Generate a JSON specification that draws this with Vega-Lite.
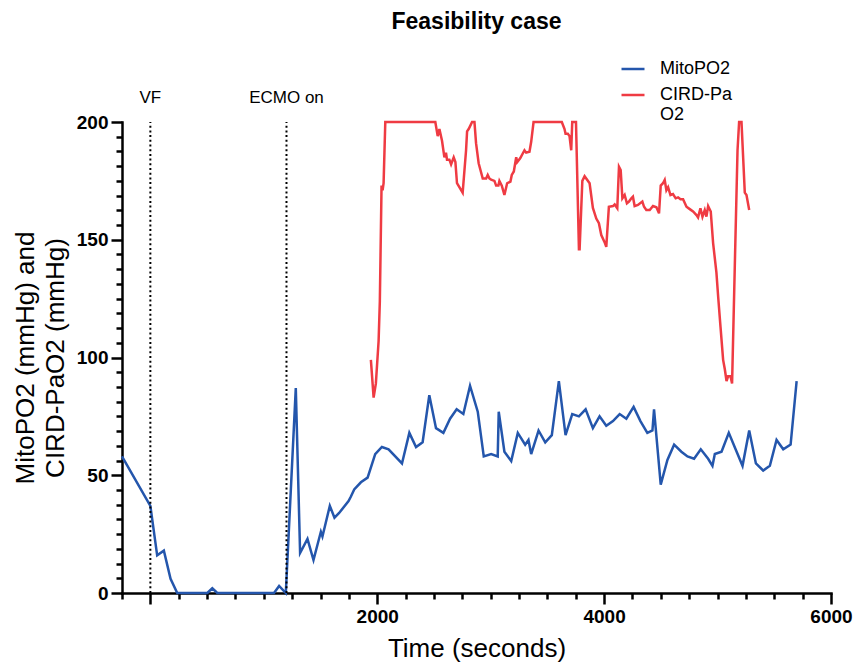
{
  "$schema": "https://vega.github.io/schema/vega-lite/v6.json",
  "width": 709,
  "height": 471,
  "autosize": "none",
  "padding": {"left": 122, "top": 122, "right": 24, "bottom": 73},
  "background": "white",
  "title": {"text": "Feasibility case", "font": "Liberation Sans", "fontSize": 23, "fontWeight": "bold", "color": "black", "anchor": "middle", "frame": "group", "offset": 22},
  "config": {
    "view": {"stroke": null},
    "axis": {"grid": false, "domainColor": "black", "tickColor": "black", "labelColor": "black", "titleColor": "black", "labelFont": "Liberation Sans", "titleFont": "Liberation Sans", "domainWidth": 2.5, "tickWidth": 2.5, "domainCap": "square"}
  },
  "datasets": {
    "series": [
      {"t": -250, "v": 58, "s": "MitoPO2"},
      {"t": 0, "v": 37, "s": "MitoPO2"},
      {"t": 60, "v": 16, "s": "MitoPO2"},
      {"t": 119, "v": 18, "s": "MitoPO2"},
      {"t": 178, "v": 6, "s": "MitoPO2"},
      {"t": 237, "v": 0, "s": "MitoPO2"},
      {"t": 502, "v": 0, "s": "MitoPO2"},
      {"t": 546, "v": 2, "s": "MitoPO2"},
      {"t": 590, "v": 0, "s": "MitoPO2"},
      {"t": 1090, "v": 0, "s": "MitoPO2"},
      {"t": 1135, "v": 3, "s": "MitoPO2"},
      {"t": 1194, "v": 0, "s": "MitoPO2"},
      {"t": 1282, "v": 87, "s": "MitoPO2"},
      {"t": 1320, "v": 17, "s": "MitoPO2"},
      {"t": 1385, "v": 23, "s": "MitoPO2"},
      {"t": 1438, "v": 14, "s": "MitoPO2"},
      {"t": 1503, "v": 26, "s": "MitoPO2"},
      {"t": 1517, "v": 24, "s": "MitoPO2"},
      {"t": 1582, "v": 37, "s": "MitoPO2"},
      {"t": 1623, "v": 32, "s": "MitoPO2"},
      {"t": 1664, "v": 34, "s": "MitoPO2"},
      {"t": 1747, "v": 39, "s": "MitoPO2"},
      {"t": 1768, "v": 41, "s": "MitoPO2"},
      {"t": 1797, "v": 44, "s": "MitoPO2"},
      {"t": 1856, "v": 47, "s": "MitoPO2"},
      {"t": 1915, "v": 49, "s": "MitoPO2"},
      {"t": 1982, "v": 59, "s": "MitoPO2"},
      {"t": 2041, "v": 62, "s": "MitoPO2"},
      {"t": 2100, "v": 61, "s": "MitoPO2"},
      {"t": 2218, "v": 55, "s": "MitoPO2"},
      {"t": 2283, "v": 68, "s": "MitoPO2"},
      {"t": 2342, "v": 62, "s": "MitoPO2"},
      {"t": 2400, "v": 64, "s": "MitoPO2"},
      {"t": 2459, "v": 84, "s": "MitoPO2"},
      {"t": 2518, "v": 70, "s": "MitoPO2"},
      {"t": 2583, "v": 68, "s": "MitoPO2"},
      {"t": 2642, "v": 74, "s": "MitoPO2"},
      {"t": 2700, "v": 78, "s": "MitoPO2"},
      {"t": 2759, "v": 76, "s": "MitoPO2"},
      {"t": 2818, "v": 88, "s": "MitoPO2"},
      {"t": 2886, "v": 77, "s": "MitoPO2"},
      {"t": 2939, "v": 58, "s": "MitoPO2"},
      {"t": 3004, "v": 59, "s": "MitoPO2"},
      {"t": 3062, "v": 58, "s": "MitoPO2"},
      {"t": 3071, "v": 77, "s": "MitoPO2"},
      {"t": 3121, "v": 60, "s": "MitoPO2"},
      {"t": 3181, "v": 56, "s": "MitoPO2"},
      {"t": 3239, "v": 68, "s": "MitoPO2"},
      {"t": 3304, "v": 63, "s": "MitoPO2"},
      {"t": 3333, "v": 65, "s": "MitoPO2"},
      {"t": 3357, "v": 59, "s": "MitoPO2"},
      {"t": 3422, "v": 69, "s": "MitoPO2"},
      {"t": 3481, "v": 64, "s": "MitoPO2"},
      {"t": 3539, "v": 67, "s": "MitoPO2"},
      {"t": 3601, "v": 90, "s": "MitoPO2"},
      {"t": 3660, "v": 67, "s": "MitoPO2"},
      {"t": 3719, "v": 76, "s": "MitoPO2"},
      {"t": 3778, "v": 75, "s": "MitoPO2"},
      {"t": 3837, "v": 78, "s": "MitoPO2"},
      {"t": 3901, "v": 70, "s": "MitoPO2"},
      {"t": 3960, "v": 75, "s": "MitoPO2"},
      {"t": 4019, "v": 71, "s": "MitoPO2"},
      {"t": 4078, "v": 73, "s": "MitoPO2"},
      {"t": 4137, "v": 76, "s": "MitoPO2"},
      {"t": 4196, "v": 74, "s": "MitoPO2"},
      {"t": 4260, "v": 79, "s": "MitoPO2"},
      {"t": 4320, "v": 73, "s": "MitoPO2"},
      {"t": 4381, "v": 68, "s": "MitoPO2"},
      {"t": 4426, "v": 69, "s": "MitoPO2"},
      {"t": 4440, "v": 78, "s": "MitoPO2"},
      {"t": 4499, "v": 46, "s": "MitoPO2"},
      {"t": 4558, "v": 56.5, "s": "MitoPO2"},
      {"t": 4617, "v": 63, "s": "MitoPO2"},
      {"t": 4681, "v": 60, "s": "MitoPO2"},
      {"t": 4735, "v": 58, "s": "MitoPO2"},
      {"t": 4793, "v": 57, "s": "MitoPO2"},
      {"t": 4852, "v": 61, "s": "MitoPO2"},
      {"t": 4917, "v": 57, "s": "MitoPO2"},
      {"t": 4955, "v": 54, "s": "MitoPO2"},
      {"t": 4976, "v": 59, "s": "MitoPO2"},
      {"t": 5035, "v": 60, "s": "MitoPO2"},
      {"t": 5099, "v": 68, "s": "MitoPO2"},
      {"t": 5159, "v": 61, "s": "MitoPO2"},
      {"t": 5220, "v": 54, "s": "MitoPO2"},
      {"t": 5279, "v": 69, "s": "MitoPO2"},
      {"t": 5338, "v": 55, "s": "MitoPO2"},
      {"t": 5402, "v": 52, "s": "MitoPO2"},
      {"t": 5461, "v": 54, "s": "MitoPO2"},
      {"t": 5520, "v": 65, "s": "MitoPO2"},
      {"t": 5579, "v": 61, "s": "MitoPO2"},
      {"t": 5644, "v": 63, "s": "MitoPO2"},
      {"t": 5697, "v": 90, "s": "MitoPO2"},
      {"t": 1944, "v": 99, "s": "CIRD-PaO2"},
      {"t": 1968, "v": 83, "s": "CIRD-PaO2"},
      {"t": 1988, "v": 89, "s": "CIRD-PaO2"},
      {"t": 2012, "v": 107, "s": "CIRD-PaO2"},
      {"t": 2023, "v": 124, "s": "CIRD-PaO2"},
      {"t": 2038, "v": 173, "s": "CIRD-PaO2"},
      {"t": 2047, "v": 171, "s": "CIRD-PaO2"},
      {"t": 2056, "v": 174, "s": "CIRD-PaO2"},
      {"t": 2071, "v": 200, "s": "CIRD-PaO2"},
      {"t": 2512, "v": 200, "s": "CIRD-PaO2"},
      {"t": 2533, "v": 194, "s": "CIRD-PaO2"},
      {"t": 2548, "v": 197, "s": "CIRD-PaO2"},
      {"t": 2571, "v": 192, "s": "CIRD-PaO2"},
      {"t": 2592, "v": 185, "s": "CIRD-PaO2"},
      {"t": 2606, "v": 187, "s": "CIRD-PaO2"},
      {"t": 2615, "v": 184, "s": "CIRD-PaO2"},
      {"t": 2636, "v": 184, "s": "CIRD-PaO2"},
      {"t": 2651, "v": 182, "s": "CIRD-PaO2"},
      {"t": 2674, "v": 185, "s": "CIRD-PaO2"},
      {"t": 2689, "v": 183, "s": "CIRD-PaO2"},
      {"t": 2703, "v": 174, "s": "CIRD-PaO2"},
      {"t": 2753, "v": 170, "s": "CIRD-PaO2"},
      {"t": 2783, "v": 188, "s": "CIRD-PaO2"},
      {"t": 2792, "v": 196, "s": "CIRD-PaO2"},
      {"t": 2806, "v": 197, "s": "CIRD-PaO2"},
      {"t": 2836, "v": 200, "s": "CIRD-PaO2"},
      {"t": 2857, "v": 200, "s": "CIRD-PaO2"},
      {"t": 2871, "v": 191, "s": "CIRD-PaO2"},
      {"t": 2894, "v": 182.5, "s": "CIRD-PaO2"},
      {"t": 2930, "v": 176, "s": "CIRD-PaO2"},
      {"t": 2960, "v": 176, "s": "CIRD-PaO2"},
      {"t": 2974, "v": 177.5, "s": "CIRD-PaO2"},
      {"t": 2989, "v": 176, "s": "CIRD-PaO2"},
      {"t": 3004, "v": 175.5, "s": "CIRD-PaO2"},
      {"t": 3033, "v": 175, "s": "CIRD-PaO2"},
      {"t": 3048, "v": 173, "s": "CIRD-PaO2"},
      {"t": 3068, "v": 173, "s": "CIRD-PaO2"},
      {"t": 3077, "v": 175, "s": "CIRD-PaO2"},
      {"t": 3098, "v": 173, "s": "CIRD-PaO2"},
      {"t": 3121, "v": 169, "s": "CIRD-PaO2"},
      {"t": 3145, "v": 174, "s": "CIRD-PaO2"},
      {"t": 3174, "v": 174.7, "s": "CIRD-PaO2"},
      {"t": 3186, "v": 177.5, "s": "CIRD-PaO2"},
      {"t": 3204, "v": 179, "s": "CIRD-PaO2"},
      {"t": 3225, "v": 185, "s": "CIRD-PaO2"},
      {"t": 3234, "v": 183, "s": "CIRD-PaO2"},
      {"t": 3260, "v": 184.6, "s": "CIRD-PaO2"},
      {"t": 3298, "v": 188, "s": "CIRD-PaO2"},
      {"t": 3313, "v": 187, "s": "CIRD-PaO2"},
      {"t": 3342, "v": 187.4, "s": "CIRD-PaO2"},
      {"t": 3357, "v": 191.6, "s": "CIRD-PaO2"},
      {"t": 3378, "v": 200, "s": "CIRD-PaO2"},
      {"t": 3627, "v": 200, "s": "CIRD-PaO2"},
      {"t": 3651, "v": 197, "s": "CIRD-PaO2"},
      {"t": 3660, "v": 195, "s": "CIRD-PaO2"},
      {"t": 3680, "v": 195, "s": "CIRD-PaO2"},
      {"t": 3695, "v": 194, "s": "CIRD-PaO2"},
      {"t": 3710, "v": 188, "s": "CIRD-PaO2"},
      {"t": 3719, "v": 200, "s": "CIRD-PaO2"},
      {"t": 3752, "v": 200, "s": "CIRD-PaO2"},
      {"t": 3778, "v": 146, "s": "CIRD-PaO2"},
      {"t": 3784, "v": 146, "s": "CIRD-PaO2"},
      {"t": 3808, "v": 175, "s": "CIRD-PaO2"},
      {"t": 3828, "v": 177, "s": "CIRD-PaO2"},
      {"t": 3872, "v": 174, "s": "CIRD-PaO2"},
      {"t": 3901, "v": 163.5, "s": "CIRD-PaO2"},
      {"t": 3931, "v": 159, "s": "CIRD-PaO2"},
      {"t": 3954, "v": 157, "s": "CIRD-PaO2"},
      {"t": 3975, "v": 152, "s": "CIRD-PaO2"},
      {"t": 4004, "v": 149, "s": "CIRD-PaO2"},
      {"t": 4019, "v": 147, "s": "CIRD-PaO2"},
      {"t": 4042, "v": 164, "s": "CIRD-PaO2"},
      {"t": 4078, "v": 164.3, "s": "CIRD-PaO2"},
      {"t": 4093, "v": 165, "s": "CIRD-PaO2"},
      {"t": 4116, "v": 163.4, "s": "CIRD-PaO2"},
      {"t": 4131, "v": 181, "s": "CIRD-PaO2"},
      {"t": 4146, "v": 179.6, "s": "CIRD-PaO2"},
      {"t": 4161, "v": 167.6, "s": "CIRD-PaO2"},
      {"t": 4181, "v": 169, "s": "CIRD-PaO2"},
      {"t": 4201, "v": 165.5, "s": "CIRD-PaO2"},
      {"t": 4219, "v": 166.2, "s": "CIRD-PaO2"},
      {"t": 4240, "v": 167.6, "s": "CIRD-PaO2"},
      {"t": 4254, "v": 168.3, "s": "CIRD-PaO2"},
      {"t": 4269, "v": 164.3, "s": "CIRD-PaO2"},
      {"t": 4298, "v": 164.8, "s": "CIRD-PaO2"},
      {"t": 4337, "v": 166.2, "s": "CIRD-PaO2"},
      {"t": 4352, "v": 164, "s": "CIRD-PaO2"},
      {"t": 4372, "v": 162.6, "s": "CIRD-PaO2"},
      {"t": 4402, "v": 162.6, "s": "CIRD-PaO2"},
      {"t": 4431, "v": 164.3, "s": "CIRD-PaO2"},
      {"t": 4461, "v": 163.8, "s": "CIRD-PaO2"},
      {"t": 4484, "v": 161.2, "s": "CIRD-PaO2"},
      {"t": 4499, "v": 173, "s": "CIRD-PaO2"},
      {"t": 4519, "v": 174, "s": "CIRD-PaO2"},
      {"t": 4534, "v": 175.4, "s": "CIRD-PaO2"},
      {"t": 4549, "v": 171, "s": "CIRD-PaO2"},
      {"t": 4564, "v": 172.3, "s": "CIRD-PaO2"},
      {"t": 4585, "v": 169, "s": "CIRD-PaO2"},
      {"t": 4607, "v": 169.4, "s": "CIRD-PaO2"},
      {"t": 4631, "v": 167.6, "s": "CIRD-PaO2"},
      {"t": 4652, "v": 168, "s": "CIRD-PaO2"},
      {"t": 4673, "v": 167.2, "s": "CIRD-PaO2"},
      {"t": 4696, "v": 167.2, "s": "CIRD-PaO2"},
      {"t": 4726, "v": 164, "s": "CIRD-PaO2"},
      {"t": 4755, "v": 163, "s": "CIRD-PaO2"},
      {"t": 4784, "v": 162, "s": "CIRD-PaO2"},
      {"t": 4814, "v": 160.5, "s": "CIRD-PaO2"},
      {"t": 4828, "v": 159.5, "s": "CIRD-PaO2"},
      {"t": 4849, "v": 163.4, "s": "CIRD-PaO2"},
      {"t": 4867, "v": 159.8, "s": "CIRD-PaO2"},
      {"t": 4887, "v": 162.6, "s": "CIRD-PaO2"},
      {"t": 4902, "v": 159.8, "s": "CIRD-PaO2"},
      {"t": 4917, "v": 164.3, "s": "CIRD-PaO2"},
      {"t": 4940, "v": 162, "s": "CIRD-PaO2"},
      {"t": 4961, "v": 148.5, "s": "CIRD-PaO2"},
      {"t": 4990, "v": 136, "s": "CIRD-PaO2"},
      {"t": 5005, "v": 126, "s": "CIRD-PaO2"},
      {"t": 5026, "v": 113, "s": "CIRD-PaO2"},
      {"t": 5049, "v": 99, "s": "CIRD-PaO2"},
      {"t": 5064, "v": 95, "s": "CIRD-PaO2"},
      {"t": 5079, "v": 90, "s": "CIRD-PaO2"},
      {"t": 5093, "v": 92, "s": "CIRD-PaO2"},
      {"t": 5114, "v": 92, "s": "CIRD-PaO2"},
      {"t": 5128, "v": 89, "s": "CIRD-PaO2"},
      {"t": 5152, "v": 139, "s": "CIRD-PaO2"},
      {"t": 5176, "v": 188, "s": "CIRD-PaO2"},
      {"t": 5190, "v": 200, "s": "CIRD-PaO2"},
      {"t": 5211, "v": 200, "s": "CIRD-PaO2"},
      {"t": 5240, "v": 170, "s": "CIRD-PaO2"},
      {"t": 5255, "v": 169, "s": "CIRD-PaO2"},
      {"t": 5279, "v": 162.6, "s": "CIRD-PaO2"}
    ],
    "events": [
      {"t": 0, "label": "VF", "y0": 0, "y1": 200, "ly": 210},
      {"t": 1200, "label": "ECMO on", "y0": 0, "y1": 200, "ly": 210}
    ]
  },
  "resolve": {"axis": {"x": "independent", "y": "independent"}},
  "layer": [
    {
      "data": {"name": "series"},
      "mark": {"type": "line", "strokeWidth": 2.5, "clip": false},
      "encoding": {
        "x": {"field": "t", "type": "quantitative", "scale": {"domain": [-250, 6000], "nice": false, "zero": false},
          "axis": {"orient": "bottom", "values": [0, 2000, 4000, 6000], "format": "d", "labelFlush": false, "labelExpr": "datum.value == 0 ? '' : datum.label", "tickSize": 11, "labelFontSize": 19, "labelFontWeight": "bold", "labelPadding": 3, "title": "Time (seconds)", "titleFontSize": 26, "titleFontWeight": "normal", "titlePadding": 9}},
        "y": {"field": "v", "type": "quantitative", "scale": {"domain": [0, 200], "nice": false},
          "axis": {"orient": "left", "values": [0, 50, 100, 150, 200], "labelFlush": false, "tickSize": 11, "labelFontSize": 19, "labelFontWeight": "bold", "labelPadding": 3, "title": ["MitoPO2 (mmHg) and", "CIRD-PaO2  (mmHg)"], "titleFontSize": 26, "titleFontWeight": "normal", "titlePadding": 8, "titleLineHeight": 30}},
        "color": {"field": "s", "type": "nominal", "sort": ["MitoPO2", "CIRD-PaO2"],
          "scale": {"domain": ["MitoPO2", "CIRD-PaO2"], "range": ["#2456ac", "#ef3b43"]},
          "legend": {"title": null, "orient": "none", "legendX": 498, "legendY": -66, "symbolType": "stroke", "symbolSize": 529, "symbolStrokeWidth": 2.5, "labelFont": "Liberation Sans", "labelFontSize": 18, "labelColor": "black", "labelOffset": 14, "rowPadding": 4, "labelExpr": "datum.label == 'CIRD-PaO2' ? ['CIRD-Pa', 'O2'] : datum.label"}}
      }
    },
    {
      "data": {"name": "events"},
      "mark": {"type": "rule", "color": "black", "strokeWidth": 2, "strokeDash": [2, 2.7]},
      "encoding": {
        "x": {"field": "t", "type": "quantitative",
          "axis": {"orient": "bottom", "values": [-250, 250, 500, 750, 1000, 1250, 1500, 1750, 2250, 2500, 2750, 3000, 3250, 3500, 3750, 4250, 4500, 4750, 5000, 5250, 5500, 5750], "tickSize": 6, "labels": false, "domain": false, "title": null}},
        "y": {"field": "y0", "type": "quantitative",
          "axis": {"orient": "left", "values": [6.25, 12.5, 18.75, 25, 31.25, 37.5, 43.75, 56.25, 62.5, 68.75, 75, 81.25, 87.5, 93.75, 106.25, 112.5, 118.75, 125, 131.25, 137.5, 143.75, 156.25, 162.5, 168.75, 175, 181.25, 187.5, 193.75], "tickSize": 6, "labels": false, "domain": false, "title": null}},
        "y2": {"field": "y1"}
      }
    },
    {
      "data": {"name": "events"},
      "mark": {"type": "text", "font": "Liberation Sans", "fontSize": 17, "color": "black", "baseline": "middle", "align": "center"},
      "encoding": {
        "x": {"field": "t", "type": "quantitative", "axis": null},
        "y": {"field": "ly", "type": "quantitative", "axis": null},
        "text": {"field": "label"}
      }
    }
  ]
}
